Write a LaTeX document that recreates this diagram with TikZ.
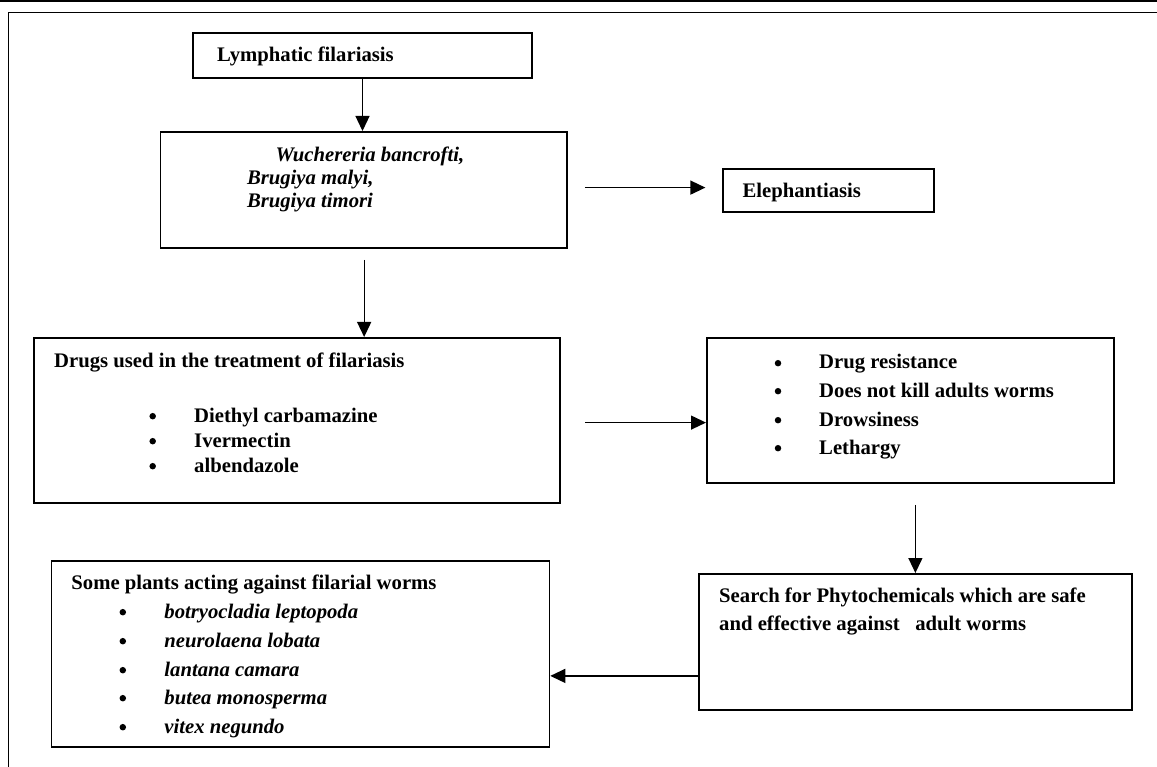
\documentclass[tikz,border=0pt]{standalone}
\usepackage{fontspec}
\setmainfont{Liberation Serif}
\usetikzlibrary{arrows.meta,calc}
\tikzset{
  box/.style={draw, line width=1.8pt, rectangle, inner sep=0pt, anchor=north west},
  txt/.style={inner sep=0pt, anchor=base west, font=\fontsize{20.7}{24}\selectfont\bfseries},
  itxt/.style={txt, font=\fontsize{20.7}{24}\selectfont\bfseries\itshape},
  bul/.style={circle, fill, inner sep=0pt, minimum size=6.5pt, yshift=5.8pt},
  arr/.style={line width=1.3pt, -{Triangle[length=15pt,width=14pt]}},
}
\begin{document}
\begin{tikzpicture}[x=1pt,y=-1pt]
\useasboundingbox (0,0) rectangle (1157,767);
% frame
\draw[line width=1.5pt] (0,0.8) -- (1157,0.8);
\draw[line width=1.8pt] (8.5,767) -- (8.5,12.5) -- (1157,12.5);
% boxes
\node[box, minimum width=339pt, minimum height=45pt] (lf) at (191.7,32) {};
\node[box, minimum width=406.5pt, minimum height=116pt] (sp) at (159.6,131) {};
\node[box, minimum width=211pt, minimum height=43pt] (el) at (722.4,168) {};
\node[box, minimum width=526pt, minimum height=165pt] (dg) at (33.3,337) {};
\node[box, minimum width=407pt, minimum height=145pt] (dr) at (706,337) {};
\node[box, minimum width=433pt, minimum height=136pt] (se) at (698,573) {};
\node[box, minimum width=498pt, minimum height=186pt] (pl) at (50.5,560) {};
% texts
\node[txt] (t1) at (217,62) {Lymphatic filariasis};
\node[itxt] (t2a) at (275.5,162) {Wuchereria bancrofti,};
\node[itxt] (t2b) at (246.8,185) {Brugiya malyi,};
\node[itxt] (t2c) at (246.8,208) {Brugiya timori};
\node[txt] (t3) at (742.3,198) {Elephantiasis};
\node[txt] (t4) at (54,367) {Drugs used in the treatment of filariasis};
\node[bul] (b4a) at (152.7,422) {};
\node[bul] (b4b) at (152.7,447) {};
\node[bul] (b4c) at (152.7,472) {};
\node[txt] (t4a) at (194,422) {Diethyl carbamazine};
\node[txt] (t4b) at (194,447) {Ivermectin};
\node[txt] (t4c) at (194,472) {albendazole};
\node[bul] (b5a) at (778,369) {};
\node[bul] (b5b) at (778,397) {};
\node[bul] (b5c) at (778,426) {};
\node[bul] (b5d) at (778,454) {};
\node[txt] (t5a) at (819,369) {Drug resistance};
\node[txt] (t5b) at (819,397) {Does not kill adults worms};
\node[txt] (t5c) at (819,426) {Drowsiness};
\node[txt] (t5d) at (819,454) {Lethargy};
\node[txt] (t6a) at (719,602) {Search for Phytochemicals which are safe};
\node[txt] (t6b) at (719,630) {and effective against\ \ \ adult worms};
\node[txt] (t7) at (71.2,589) {Some plants acting against filarial worms};
\node[bul] (b7a) at (122.8,618) {};
\node[bul] (b7b) at (122.8,647) {};
\node[bul] (b7c) at (122.8,676) {};
\node[bul] (b7d) at (122.8,704) {};
\node[bul] (b7e) at (122.8,733) {};
\node[itxt] (t7a) at (164.2,618) {botryocladia leptopoda};
\node[itxt] (t7b) at (164.2,647) {neurolaena lobata};
\node[itxt] (t7c) at (164.2,676) {lantana camara};
\node[itxt] (t7d) at (164.2,704) {butea monosperma};
\node[itxt] (t7e) at (164.2,733) {vitex negundo};
% arrows
\draw[arr] ([xshift=0.4pt]lf.south) coordinate (a0) -- (a0 |- sp.north);
\draw[arr] ([xshift=17pt,yshift=2.3pt]sp.east) coordinate (a1) -- ([xshift=-17pt]a1 -| el.west);
\draw[arr] ([yshift=-11pt,xshift=0.4pt]sp.south) coordinate (a2) -- (a2 |- dg.north);
\draw[arr] ([xshift=24pt,yshift=-2.2pt]dg.east) coordinate (a3) -- (a3 -| dr.west);
\draw[arr] ([yshift=-21pt]dr.south -| se.north) -- (se.north);
\draw[arr] ([yshift=-34pt]se.west) coordinate (a4) -- (a4 -| pl.east);
\end{tikzpicture}
\end{document}
